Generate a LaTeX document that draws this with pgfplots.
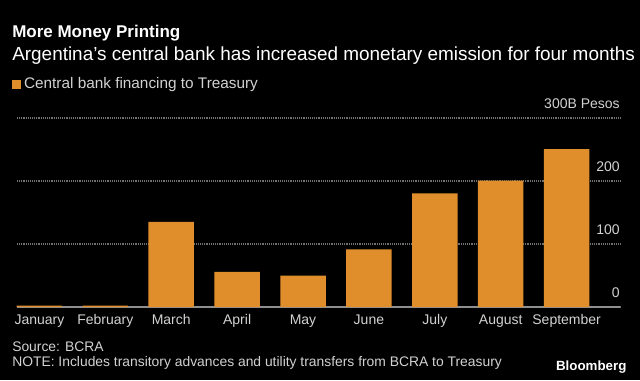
\documentclass[border=0pt]{standalone}
\usepackage{pgfplots}
\pgfplotsset{compat=1.18}
\usepackage{fontspec}
\setmainfont{Liberation Sans}
\definecolor{barc}{HTML}{E08E2B}
\definecolor{txtc}{HTML}{D2D2D2}
\definecolor{gridc}{HTML}{707070}
\definecolor{basec}{HTML}{8F8F8F}
\begin{document}
\begin{tikzpicture}
\fill[black] (0,0) rectangle (480pt,285pt);
\node[anchor=base west, inner sep=0pt, text=white, font=\fontsize{12.75pt}{14pt}\selectfont\bfseries] at (9pt,257pt) {More Money Printing};
\node[anchor=base west, inner sep=0pt, text=white, font=\fontsize{14.2pt}{16pt}\selectfont] at (9pt,240pt) {Argentina's central bank has increased monetary emission for four months};
\node[anchor=base west, inner sep=0pt, text=txtc, font=\fontsize{10.4pt}{12pt}\selectfont] at (9pt,21.2pt) {Source: BCRA};
\node[anchor=base west, inner sep=0pt, text=txtc, font=\fontsize{10.4pt}{12pt}\selectfont] at (9pt,10.5pt) {NOTE: Includes transitory advances and utility transfers from BCRA to Treasury};
\node[anchor=base east, inner sep=0pt, text=white, font=\fontsize{10pt}{12pt}\selectfont\bfseries] at (470pt,7.2pt) {Bloomberg};
\begin{axis}[
  at={(12.75pt,54.75pt)}, anchor=south west,
  scale only axis, width=452.25pt, height=141.75pt,
  xmin=-0.34, xmax=8.81, ymin=0, ymax=300,
  clip=false,
  axis line style={draw=none},
  major tick style={draw=none},
  xtick={0,...,8},
  xticklabels={January,February,March,April,May,June,July,August,September},
  ytick={0,100,200,300},
  yticklabels={0,100,200,300B Pesos},
  yticklabel pos=right,
  yticklabel style={anchor=base east, inner sep=0pt, xshift=0pt, yshift=7.3pt},
  xticklabel style={inner sep=0pt, anchor=base, yshift=-13pt},
  ticklabel style={text=txtc, font=\fontsize{10.5pt}{12pt}\selectfont},
  /pgf/number format/assume math mode=true,
  xmajorgrids=false, ymajorgrids=true,
  grid style={densely dotted, draw=gridc, line width=0.8pt},
  legend style={at={(-0.009,1.228)}, anchor=north west, draw=none, fill=none, text=txtc, font=\fontsize{11.5pt}{13pt}\selectfont, inner sep=0pt, legend cell align=left},
  legend image code/.code={\fill[barc] (0pt,-3.6pt) rectangle (7.2pt,3.6pt);},
]
\addplot[basec, line width=1.5pt, forget plot] coordinates {(-0.34,0) (8.81,0)};
\addplot[ybar, bar width=0.69, fill=barc, draw=none] coordinates {
(0,2.2) (1,2.2) (2,135) (3,55.6) (4,50) (5,91.5) (6,180.4) (7,200.5) (8,250.8)};
\addlegendentry{Central bank financing to Treasury}
\end{axis}
\end{tikzpicture}
\end{document}
